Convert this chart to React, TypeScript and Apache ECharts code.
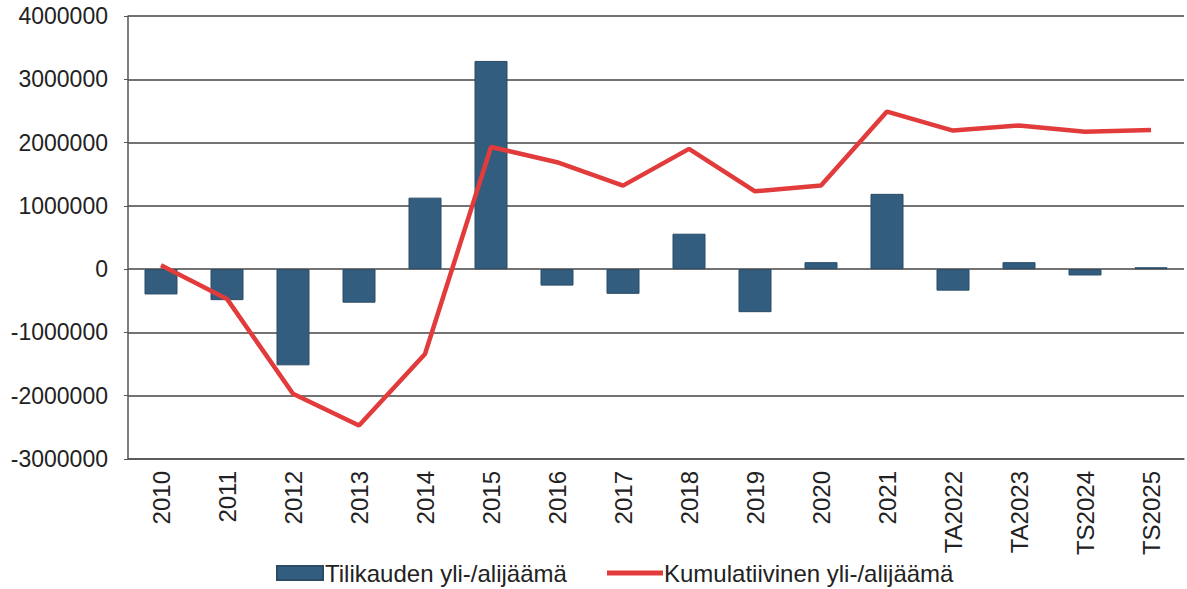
import React, { useEffect, useRef } from "react";
import * as echarts from "echarts";

const categories = ["2010", "2011", "2012", "2013", "2014", "2015", "2016", "2017", "2018", "2019", "2020", "2021", "TA2022", "TA2023", "TS2024", "TS2025"];
const annualValues = [-400000, -490000, -1520000, -530000, 1130000, 3290000, -260000, -390000, 560000, -680000, 110000, 1190000, -340000, 110000, -100000, 30000];
const cumulativeValues = [60000, -470000, -1970000, -2470000, -1340000, 1930000, 1690000, 1320000, 1900000, 1230000, 1320000, 2490000, 2190000, 2270000, 2170000, 2200000];
const barName = "Tilikauden yli-/alijäämä";
const lineName = "Kumulatiivinen yli-/alijäämä";

export default function App() {
  const ref = useRef<HTMLDivElement>(null);
  useEffect(() => {
    if (!ref.current) return;
    const chart = echarts.init(ref.current, null, { renderer: "svg" });
    const font = "'Liberation Sans', Arial, sans-serif";
    chart.setOption({
      animation: false,
      backgroundColor: "#ffffff",
      grid: { left: 128, right: 3, top: 16, bottom: 130, containLabel: false },
      xAxis: {
        type: "category",
        data: categories,
        axisLine: { show: true, onZero: false, lineStyle: { color: "#555", width: 1.5 } },
        axisTick: { show: false },
        axisLabel: { rotate: 90, margin: 12, fontSize: 24, color: "#222", fontFamily: font },
      },
      yAxis: {
        type: "value",
        min: -3000000,
        max: 4000000,
        interval: 1000000,
        axisLine: { show: true, lineStyle: { color: "#555", width: 1.5 } },
        axisTick: { show: true, length: 4, lineStyle: { color: "#555" } },
        axisLabel: {
          fontSize: 23,
          color: "#222",
          margin: 20,
          fontFamily: font,
          formatter: (v: number) => String(v),
        },
        splitLine: { show: true, lineStyle: { color: "#444", width: 1.5 } },
      },
      legend: [
        {
          data: [{ name: barName, icon: "rect" }],
          left: 276,
          top: 561,
          padding: 0,
          itemWidth: 46,
          itemHeight: 14,
          textStyle: { fontSize: 24, color: "#222", fontFamily: font, padding: [0, 0, 0, -3] },
        },
        {
          data: [{ name: lineName, icon: "rect" }],
          left: 607,
          top: 561,
          padding: 0,
          itemWidth: 56,
          itemHeight: 5,
          textStyle: { fontSize: 24, color: "#222", fontFamily: font, padding: [0, 0, 0, -4] },
        },
      ],
      series: [
        {
          name: barName,
          type: "bar",
          data: annualValues,
          barWidth: "50%",
          itemStyle: { color: "#335d7e", borderColor: "#2a4c66", borderWidth: 1 },
        },
        {
          name: lineName,
          type: "line",
          data: cumulativeValues,
          symbol: "none",
          lineStyle: { color: "#e23b3b", width: 4.5 },
          itemStyle: { color: "#e23b3b" },
        },
      ],
    });
    return () => chart.dispose();
  }, []);
  return (
    <div
      ref={ref}
      style={{ position: "fixed", left: 0, top: 0, width: 1187, height: 589, background: "#fff" }}
    />
  );
}
